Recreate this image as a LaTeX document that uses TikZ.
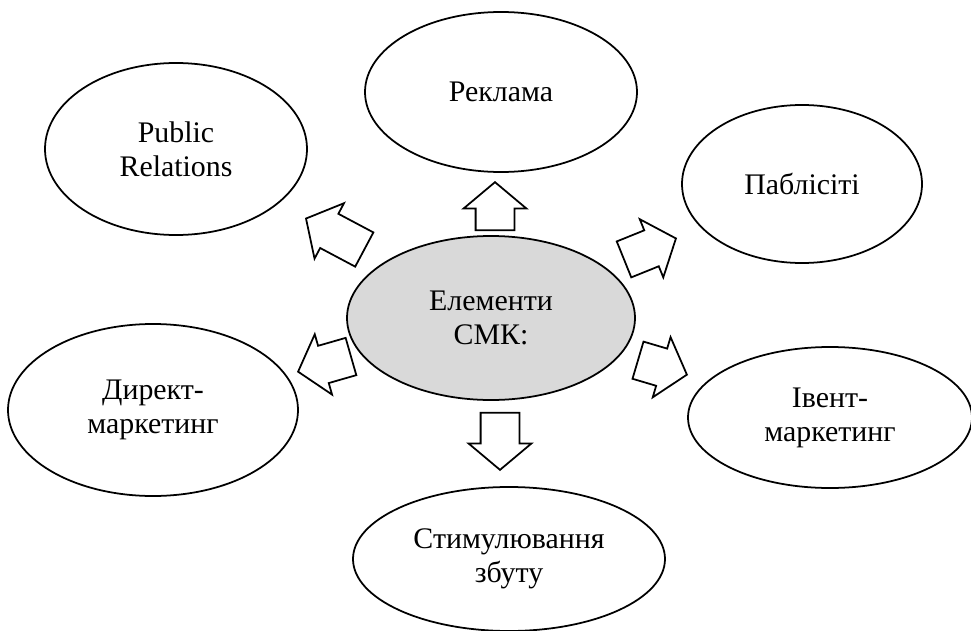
\documentclass[tikz,border=0pt]{standalone}
\usepackage{fontspec}
\setmainfont{Liberation Serif}
\usetikzlibrary{shapes.geometric,shapes.arrows}

\tikzset{
  element/.style={ellipse, draw, line width=1pt, inner sep=0pt,
    align=center, font=\fontsize{17}{19.4}\selectfont},
  pointer/.style={single arrow, draw, line width=1pt, fill=white,
    inner xsep=0pt, inner ysep=0.37cm, single arrow head extend=0.24cm,
    single arrow tip angle=100, anchor=tip}
}

\begin{document}
\begin{tikzpicture}

    \useasboundingbox (0,0) rectangle (19.42,12.6);

    \node[element, fill=gray!30, minimum width=5.76cm, minimum height=3.28cm]
      (smk) at (9.82,6.24) {Елементи\\СМК:};

    \node[element, minimum width=5.44cm, minimum height=3.2cm]
      (reklama) at (10.02,10.76) {Реклама};
    \node[element, minimum width=5.24cm, minimum height=3.44cm]
      (pr) at (3.52,9.62) {Public\\Relations};
    \node[element, minimum width=4.8cm, minimum height=3.16cm]
      (publicity) at (16.04,8.92) {Паблісіті};
    \node[element, minimum width=5.8cm, minimum height=3.44cm]
      (direct) at (3.06,4.4) {Директ-\\маркетинг};
    \node[element, minimum width=5.68cm, minimum height=2.82cm]
      (event) at (16.6,4.25) {Івент-\\маркетинг};
    \node[element, minimum width=6.24cm, minimum height=2.88cm]
      (promo) at (10.18,1.42) {Стимулювання\\збуту};

    \node[pointer, rotate=90, minimum height=0.96cm] (toreklama) at (9.9,8.98) {};
    \node[pointer, rotate=-90, minimum height=1.14cm] (topromo) at (10.0,3.18) {};
    \node[pointer, rotate=152, minimum height=1.32cm] (topr) at (6.1,8.24) {};
    \node[pointer, rotate=196, minimum height=1.1cm] (todirect) at (5.94,5.16) {};
    \node[pointer, rotate=22, minimum height=1.12cm] (topublicity) at (13.54,7.84) {};
    \node[pointer, rotate=-16.5, minimum height=1.02cm] (toevent) at (13.76,5.1) {};

\end{tikzpicture}
\end{document}
